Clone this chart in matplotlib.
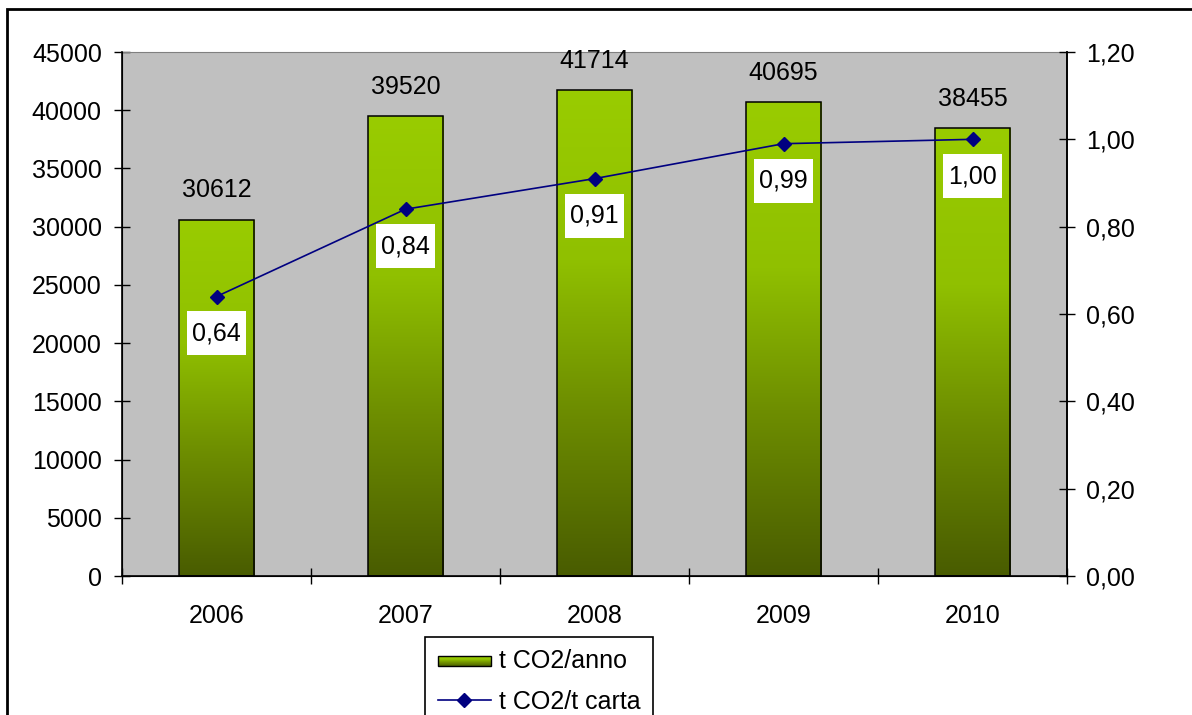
import matplotlib.pyplot as plt
import numpy as np
from matplotlib.colors import LinearSegmentedColormap
from matplotlib.legend_handler import HandlerBase
from matplotlib.lines import Line2D
from matplotlib.patches import Rectangle
from matplotlib.path import Path
from matplotlib.ticker import FuncFormatter

plt.rcParams["font.family"] = ["Liberation Sans", "DejaVu Sans"]
FS = 18

# Data
years = ["2006", "2007", "2008", "2009", "2010"]
co2_per_year = [30612, 39520, 41714, 40695, 38455]      # t CO2/anno
co2_per_paper = [0.64, 0.84, 0.91, 0.99, 1.00]            # t CO2/t carta

# Bar fill: dark olive at the base, bright yellow-green at the top
green = LinearSegmentedColormap.from_list(
    "bar_green",
    [(0.0, "#495C00"), (0.35, "#6E8E00"), (0.65, "#90C000"), (1.0, "#99CC00")],
)
grad = np.linspace(0, 1, 256).reshape(-1, 1)


def label_box(x0, y0, width, height, mutation_size):
    # white tag, taller than it is padded sideways
    px, py = 0.2 * mutation_size, 0.4 * mutation_size
    verts = [(x0 - px, y0 - py), (x0 + width + px, y0 - py),
             (x0 + width + px, y0 + height + py), (x0 - px, y0 + height + py),
             (x0 - px, y0 - py)]
    return Path(verts, closed=True)


class GradientHandler(HandlerBase):
    def create_artists(self, legend, orig, xd, yd, w, h, fontsize, trans):
        arts = []
        n = 12
        y0 = yd + h * 0.12
        hh = h * 0.6
        for i in range(n):
            arts.append(Rectangle((xd, y0 + hh * i / n), w, hh / n + 0.2,
                                  facecolor=green(i / (n - 1)), edgecolor="none",
                                  transform=trans))
        arts.append(Rectangle((xd, y0), w, hh, facecolor="none",
                              edgecolor="black", lw=1, transform=trans))
        return arts


fig = plt.figure(figsize=(11.92, 7.15), dpi=100)
ax = fig.add_axes([122 / 1192, 1 - 576 / 715, 945 / 1192, 524 / 715])
ax.set_facecolor("#C0C0C0")

x = np.arange(len(years))
bars = ax.bar(x, co2_per_year, width=0.4, facecolor="none",
              edgecolor="black", linewidth=1.1, zorder=3)
for b in bars:
    x0, y0 = b.get_x(), b.get_y()
    im = ax.imshow(grad, cmap=green, origin="lower", aspect="auto",
                   extent=[x0, x0 + b.get_width(), y0, y0 + b.get_height()],
                   zorder=2)
    im.set_clip_path(b)

for xi, v in zip(x, co2_per_year):
    ax.annotate(str(v), (xi, v), xytext=(0, 21), textcoords="offset points",
                ha="center", va="center", fontsize=FS)

ax.set_xlim(-0.5, len(years) - 0.5)
ax.set_ylim(0, 45000)
ax.set_yticks(np.arange(0, 45001, 5000))
ax.set_xticks(np.arange(-0.5, len(years), 1.0))
ax.set_xticklabels([])
ax.set_xticks(x, minor=True)
ax.set_xticklabels(years, minor=True)
ax.tick_params(axis="x", which="major", direction="inout", length=11, width=1)
ax.tick_params(axis="x", which="minor", length=0, pad=20, labelsize=FS)
ax.tick_params(axis="y", direction="inout", length=11, width=1, pad=9,
               labelsize=FS)
ax.spines["top"].set_color("#808080")
for s in ("left", "bottom", "right"):
    ax.spines[s].set_linewidth(1.2)

# Secondary axis for the per-tonne ratio
ax2 = ax.twinx()
ax2.plot(x, co2_per_paper, color="#000080", linewidth=1.2, marker="D",
         markersize=7, zorder=4)
for xi, v in zip(x, co2_per_paper):
    ax2.annotate(f"{v:.2f}".replace(".", ","), (xi, v), xytext=(0, -26.6),
                 textcoords="offset points", ha="center", va="center",
                 fontsize=FS,
                 bbox=dict(boxstyle=label_box, fc="white", ec="none"))
ax2.set_ylim(0, 1.2)
ax2.set_yticks(np.arange(0, 1.21, 0.2))
ax2.yaxis.set_major_formatter(FuncFormatter(lambda v, p: f"{v:.2f}".replace(".", ",")))
ax2.tick_params(axis="y", direction="inout", length=11, width=1, pad=8,
                labelsize=FS)
ax2.spines["top"].set_visible(False)
ax2.spines["right"].set_linewidth(1.2)

bar_handle = Rectangle((0, 0), 1, 1)
line_handle = Line2D([], [], color="#000080", linewidth=1.2, marker="D",
                     markersize=7)
fig.legend([bar_handle, line_handle], ["t CO2/anno", "t CO2/t carta"],
           loc="upper left", bbox_to_anchor=(425 / 1192, 1 - 637 / 715),
           borderaxespad=0, fontsize=FS, frameon=True, fancybox=False,
           edgecolor="black", framealpha=1, handlelength=2.15,
           handletextpad=0.32, labelspacing=0.65, borderpad=0.5,
           handler_map={Rectangle: GradientHandler()})
fig.legends[0].get_frame().set_linewidth(1.2)

# Chart border
fig.add_artist(Rectangle((7 / 1192, -0.2), 1.2, 1.2 - 9 / 715,
                         transform=fig.transFigure, fill=False,
                         edgecolor="black", linewidth=2))

fig.savefig("out.png", dpi=100)
